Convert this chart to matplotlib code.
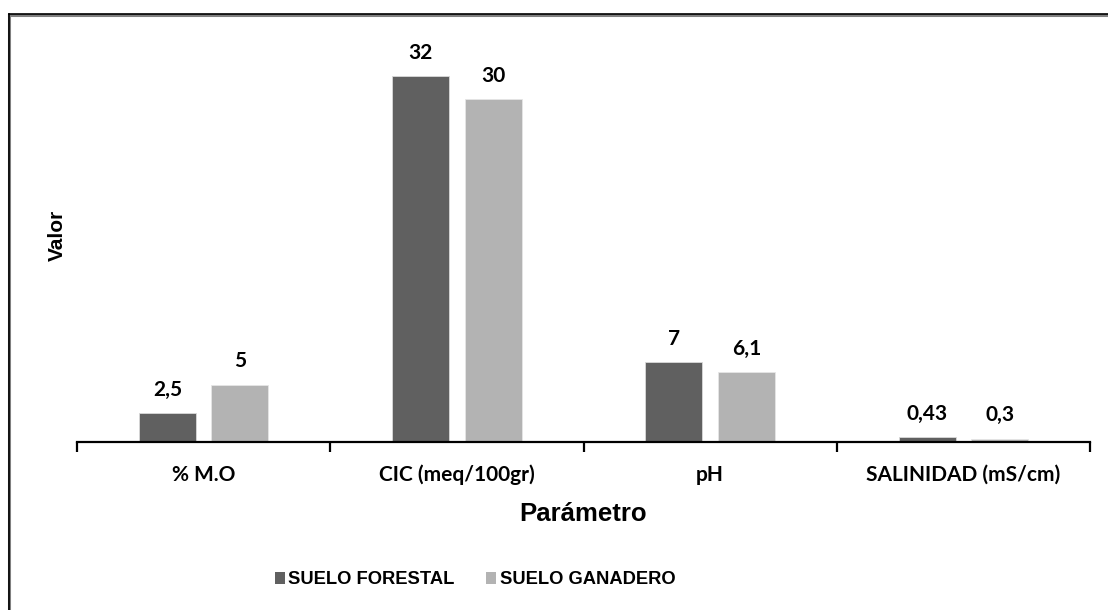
import matplotlib
matplotlib.use("Agg")
import matplotlib.pyplot as plt
from matplotlib.lines import Line2D
from matplotlib.patches import Patch
import numpy as np

categories = ["% M.O", "CIC (meq/100gr)", "pH", "SALINIDAD (mS/cm)"]
forestal = [2.5, 32, 7, 0.43]
ganadero = [5, 30, 6.1, 0.3]
forestal_labels = ["2,5", "32", "7", "0,43"]
ganadero_labels = ["5", "30", "6,1", "0,3"]
series_names = ["SUELO FORESTAL", "SUELO GANADERO"]

c_dark = "#606060"
c_light = "#b3b3b3"
label_font = "Lato"
title_font = "Liberation Sans"

W, H = 1108, 610
fig = plt.figure(figsize=(W / 100, H / 100), dpi=100)
ax = fig.add_axes([77 / W, 1 - 442 / H, (1090 - 77) / W, (442 - 42) / H])

x = np.arange(len(categories))
bw = 0.225
off = 0.143
b1 = ax.bar(x - off, forestal, bw, color=c_dark, edgecolor="#d9d9d9", linewidth=0.6, zorder=2)
b2 = ax.bar(x + off, ganadero, bw, color=c_light, edgecolor="#e6e6e6", linewidth=0.6, zorder=2)

for bars, labs in ((b1, forestal_labels), (b2, ganadero_labels)):
    for rect, lab in zip(bars, labs):
        ax.annotate(lab, (rect.get_x() + rect.get_width() / 2, rect.get_height()),
                    xytext=(0, 12.5), textcoords="offset points", ha="center", va="baseline",
                    fontsize=15, fontweight="bold", family=label_font)

ax.set_xlim(-0.5, len(categories) - 0.5)
ax.set_ylim(0, 35)
ax.set_yticks([])
for s in ("top", "right", "left"):
    ax.spines[s].set_visible(False)
ax.spines["bottom"].set_linewidth(1.6)
ax.spines["bottom"].set_color("black")

ax.set_xticks(x)
ax.set_xticklabels(categories, fontsize=15, fontweight="bold", family=label_font)
for lbl in ax.get_xticklabels():
    lbl.set_va("baseline")
ax.tick_params(axis="x", which="major", length=0, pad=28)
ax.set_xticks(np.arange(len(categories) + 1) - 0.5, minor=True)
ax.tick_params(axis="x", which="minor", length=7, width=1.6, direction="out", color="black")

ax.set_xlabel("Parámetro", fontsize=18.5, fontweight="bold", family=title_font)
ax.xaxis.set_label_coords(0.5, -(514 - 442) / 400, transform=ax.transAxes)
ax.xaxis.label.set_va("center")
ax.set_ylabel("Valor", fontsize=15, fontweight="bold", family=title_font)
ax.yaxis.set_label_coords(-(77 - 57) / 1013, (442 - 235) / 400, transform=ax.transAxes)
ax.yaxis.label.set_va("center")

handles = [Patch(facecolor=c_dark, edgecolor="none"), Patch(facecolor=c_light, edgecolor="none")]
fig.legend(handles, series_names, loc="center", bbox_to_anchor=(475 / W, 30 / H), ncol=2,
           frameon=False, handlelength=0.55, handleheight=0.55, handletextpad=0.2,
           columnspacing=1.7, borderpad=0, prop={"family": title_font, "weight": "bold", "size": 13.2})

# outer chart frame (top and left edges)
fig.add_artist(Line2D([9 / W, 1.0], [1 - 14.5 / H] * 2, transform=fig.transFigure, color="#808080", lw=2.2))
fig.add_artist(Line2D([9 / W] * 2, [0.0, 1 - 14.5 / H], transform=fig.transFigure, color="#808080", lw=2.2))
fig.add_artist(Line2D([8.5 / W, 1.0], [1 - 13.8 / H] * 2, transform=fig.transFigure, color="black", lw=1.2))
fig.add_artist(Line2D([8.5 / W] * 2, [0.0, 1 - 13.8 / H], transform=fig.transFigure, color="black", lw=1.2))

fig.savefig("out.png", dpi=100, facecolor="white")
